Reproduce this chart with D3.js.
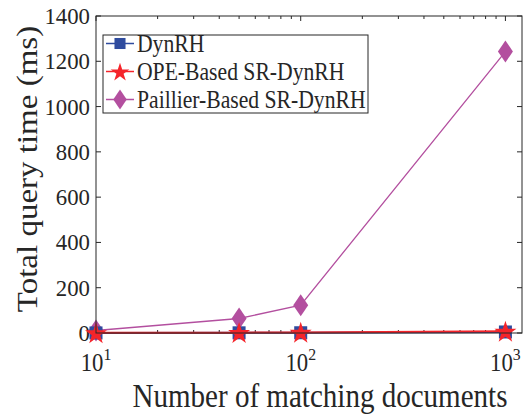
<!DOCTYPE html>
<html>
<head>
<meta charset="utf-8">
<script src="https://cdn.jsdelivr.net/npm/d3@7"></script>
<style>
  body { margin: 0; background: #fff; }
  svg text { font-family: "Liberation Serif", "Times New Roman", serif; fill: #262626; }
</style>
</head>
<body>
<svg id="chart"></svg>
<script>
// data
const docs = [10, 50, 100, 1000];
const dynrh = [0.3, 0.8, 1.1, 4.5];
const opeSR = [0.6, 1.5, 2.5, 7.5];
const paillierSR = [11, 64, 123, 1243];
const seriesNames = ["DynRH", "OPE-Based SR-DynRH", "Paillier-Based SR-DynRH"];
const yTicks = [0, 200, 400, 600, 800, 1000, 1200, 1400];
const xTicks = [10, 100, 1000];

const W = 526, H = 416;
const margin = {top: 16, right: 4, bottom: 83, left: 96},
    width = W - margin.left - margin.right,
    height = H - margin.top - margin.bottom;

// the original picture looks squeezed sideways, so text is narrowed a bit
const sx = 0.88;

const svg = d3.select("#chart")
    .attr("width", W)
    .attr("height", H)
    .append("g")
    .attr("transform", `translate(${margin.left},${margin.top})`);

const x = d3.scaleLog().domain([10, 1205]).range([0, width]);
const y = d3.scaleLinear().domain([0, 1400]).range([height, 0]);

const axisColor = "#262626";
const tickLen = 5;

// helper: text at (px,py) narrowed horizontally
function label(parent, px, py, size, anchor, txt, extra, k) {
  const g = parent.append("g")
      .attr("transform", `translate(${px},${py}) scale(${k || sx},1)` + (extra || ""));
  return g.append("text")
      .attr("text-anchor", anchor)
      .style("font-size", size + "px")
      .text(txt);
}

// minor ticks for log axis
const minor = [];
for (let d = 10; d < 1200; d *= 10) {
  for (let k = 2; k <= 9; k++) if (d * k < 1205) minor.push(d * k);
}
svg.selectAll(".minor-b").data(minor).enter().append("line")
    .attr("x1", d => x(d)).attr("x2", d => x(d))
    .attr("y1", height).attr("y2", height - 3)
    .attr("stroke", axisColor).attr("stroke-width", 1);
svg.selectAll(".minor-t").data(minor).enter().append("line")
    .attr("x1", d => x(d)).attr("x2", d => x(d))
    .attr("y1", 0).attr("y2", 3)
    .attr("stroke", axisColor).attr("stroke-width", 1);

// major ticks x
svg.selectAll(".xmaj").data(xTicks).enter().append("line")
    .attr("x1", d => x(d)).attr("x2", d => x(d))
    .attr("y1", height).attr("y2", height - tickLen)
    .attr("stroke", axisColor);
svg.selectAll(".xmajt").data(xTicks).enter().append("line")
    .attr("x1", d => x(d)).attr("x2", d => x(d))
    .attr("y1", 0).attr("y2", tickLen)
    .attr("stroke", axisColor);

// y ticks left and right
svg.selectAll(".ytl").data(yTicks).enter().append("line")
    .attr("x1", 0).attr("x2", tickLen)
    .attr("y1", d => y(d)).attr("y2", d => y(d))
    .attr("stroke", axisColor);
svg.selectAll(".ytr").data(yTicks).enter().append("line")
    .attr("x1", width).attr("x2", width - tickLen)
    .attr("y1", d => y(d)).attr("y2", d => y(d))
    .attr("stroke", axisColor);

// y tick labels
yTicks.forEach(d => label(svg, -6, y(d) + 8, 24, "end", d, "", 0.95));

// x tick labels 10^n
xTicks.forEach(d => {
  const t = label(svg, x(d), height + 38, 24.5, "middle", null, "", 0.93);
  t.append("tspan").text("10");
  t.append("tspan")
      .attr("dy", -11)
      .style("font-size", "17px")
      .text(Math.round(Math.log10(d)));
});

// axis labels
label(svg, width / 2 + 11, height + 74, 33, "middle", "Number of matching documents");
label(svg, 37 - margin.left, 169 - margin.top, 33, "middle", "Total query time (ms)", " rotate(-90)");

// series
const series = [
  {name: seriesNames[0], values: dynrh, color: "#2f4b9e", marker: "square"},
  {name: seriesNames[1], values: opeSR, color: "#f5242a", marker: "star"},
  {name: seriesNames[2], values: paillierSR, color: "#b34f9f", marker: "diamond"}
];

const drawMarker = (g, type, color, cx, cy, s) => {
  s = s || 1;
  if (type === "square") {
    g.append("rect").attr("x", cx - 6.5 * s).attr("y", cy - 6.5 * s)
      .attr("width", 13 * s).attr("height", 13 * s).attr("fill", color);
  } else if (type === "star") {
    g.append("path")
      .attr("d", d3.symbol(d3.symbolStar, 150 * s * s)())
      .attr("transform", `translate(${cx},${cy + 1})`)
      .attr("fill", color);
  } else {
    g.append("path")
      .attr("d", `M0,${-11 * s}L${7.5 * s},0L0,${11 * s}L${-7.5 * s},0Z`)
      .attr("transform", `translate(${cx},${cy})`)
      .attr("fill", color);
  }
};

const line = d3.line().x(d => x(d[0])).y(d => y(d[1]));

// draw paillier first so red/blue lie on top near zero, like the original
[series[2], series[0], series[1]].forEach(s => {
  const pts = docs.map((d, i) => [d, s.values[i]]);
  svg.append("path")
      .datum(pts)
      .attr("fill", "none")
      .attr("stroke", s.color)
      .attr("stroke-width", s.marker === "diamond" ? 1.3 : 2)
      .attr("d", line);
  const g = svg.append("g");
  pts.forEach(p => drawMarker(g, s.marker, s.color, x(p[0]), y(p[1])));
});

// box
svg.append("rect")
    .attr("x", 0).attr("y", 0)
    .attr("width", width).attr("height", height)
    .attr("fill", "none")
    .attr("stroke", axisColor)
    .attr("stroke-width", 1);

// legend
const leg = svg.append("g").attr("transform", `translate(${103 - margin.left},${35 - margin.top})`);
leg.append("rect")
    .attr("width", 265).attr("height", 78)
    .attr("fill", "#fff")
    .attr("stroke", axisColor);
series.forEach((s, i) => {
  const cy = 8.5 + i * 28;
  leg.append("line")
      .attr("x1", 3).attr("x2", 31)
      .attr("y1", cy).attr("y2", cy)
      .attr("stroke", s.color).attr("stroke-width", 1.5);
  drawMarker(leg, s.marker, s.color, 17, cy, s.marker === "diamond" ? 0.9 : 0.85);
  label(leg, 34, cy + 8, 24.6, "start", s.name);
});
</script>
</body>
</html>
